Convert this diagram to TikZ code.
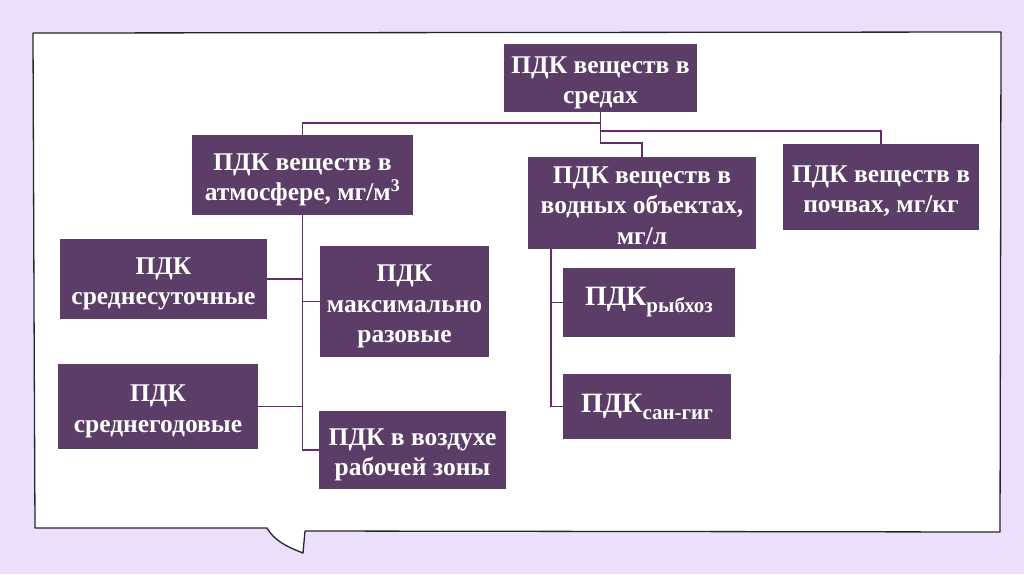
\documentclass[tikz,border=0pt]{standalone}
\usepackage{fontspec}
\setmainfont{Liberation Serif}
\usetikzlibrary{calc}
\definecolor{bgl}{RGB}{235,223,252}
\definecolor{boxc}{RGB}{92,61,103}
\definecolor{connc}{RGB}{104,42,110}
\definecolor{framec}{RGB}{40,36,44}
\tikzset{
  pbox/.style={fill=boxc, draw=none, text=white, inner sep=0pt,
    font=\bfseries\fontsize{25.5}{30.5}\selectfont},
  conn/.style={draw=connc, line width=1.8pt},
}
\newcommand{\bt}[1]{\raisebox{-4.5pt}[\height][\depth]{\begin{tabular}{@{}c@{}}#1\end{tabular}}}
\newcommand{\pdksub}[1]{{\fontsize{28}{28}\selectfont ПДК}\raisebox{-7pt}{\fontsize{21}{21}\selectfont #1}}
\begin{document}
\begin{tikzpicture}[x=1pt,y=-1pt]
\useasboundingbox (0,0) rectangle (1024,574);
\fill[bgl] (0,0) rectangle (1024,574);
% speech bubble frame
\path[fill=white, draw=framec, line width=1.3pt, line join=round]
  (33,33) -- (520,32.5) -- (1001,32) -- (1000.5,300) -- (1000,532) -- (650,531.5) -- (305,531)
  -- (303,553) .. controls (285,546) and (274,540) .. (267,528)
  -- (150,528) -- (35,528) -- (34,300) -- cycle;
% boxes
\node[pbox, minimum width=193, minimum height=68] (top) at (600.5,78) {\bt{ПДК веществ в\\средах}};
\node[pbox, minimum width=221, minimum height=80] (atm) at (302.5,175) {\bt{ПДК веществ в\\атмосфере, мг/м\textsuperscript{3}}};
\node[pbox, minimum width=228, minimum height=92] (water) at (642,203) {\bt{ПДК веществ в\\водных объектах,\\мг/л}};
\node[pbox, minimum width=196, minimum height=86] (soil) at (881,187) {\bt{ПДК веществ в\\почвах, мг/кг}};
\node[pbox, minimum width=207, minimum height=80] (sredsut) at (163.5,279) {\bt{ПДК\\среднесуточные}};
\node[pbox, minimum width=169, minimum height=111] (maxraz) at (404.5,301.5) {\bt{ПДК\\максимально\\разовые}};
\node[pbox, minimum width=200, minimum height=85] (sredgod) at (158,406.5) {\bt{ПДК\\среднегодовые}};
\node[pbox, minimum width=187, minimum height=78] (vozduh) at (412.5,450) {\bt{ПДК в воздухе\\рабочей зоны}};
\node[pbox, minimum width=172, minimum height=69] (rybhoz) at (649,302.5) {\pdksub{рыбхоз}};
\node[pbox, minimum width=168, minimum height=65] (sangig) at (647,406.5) {\pdksub{сан-гиг}};
% connectors
\draw[conn] (top.south) -- ++(0,11) -| (atm.north);
\draw[conn] (top.south) -- ++(0,19) -| (soil.north);
\draw[conn] (top.south) -- ++(0,31) -| (water.north);
\draw[conn] (atm.south) |- (vozduh.west);
\draw[conn] (sredsut.east) -- (sredsut.east -| atm.south);
\draw[conn] (maxraz.west) -- (maxraz.west -| atm.south);
\draw[conn] (sredgod.east) -- (sredgod.east -| atm.south);
\coordinate (wt) at ($(water.south west)+(23,0)$);
\draw[conn] (wt) |- (sangig.west);
\draw[conn] (rybhoz.west) -- (rybhoz.west -| wt);
\end{tikzpicture}
\end{document}
